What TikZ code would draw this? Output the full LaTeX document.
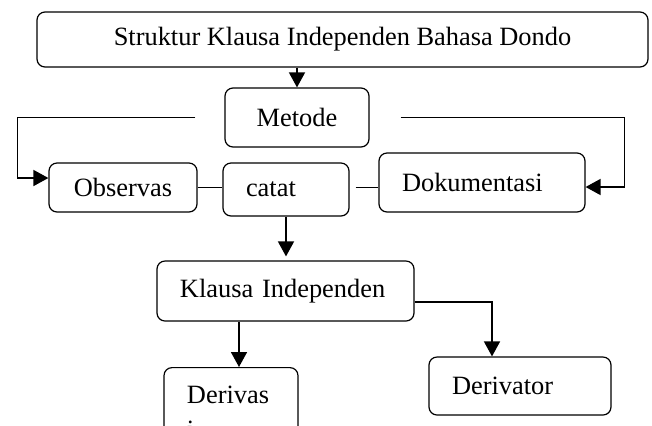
\documentclass[tikz,border=0pt]{standalone}
\usepackage{fontspec}
\setmainfont{Liberation Serif}
\usetikzlibrary{shapes.geometric, arrows, arrows.meta}
\tikzstyle{judul} = [rectangle, rounded corners=4pt, minimum width=305.5pt, minimum height=27.5pt, text centered, draw=black, line width=0.6pt, fill=white]
\tikzstyle{proses} = [rectangle, rounded corners=4pt, inner xsep=11.5pt, align=left, draw=black, line width=0.6pt, fill=white]
\tikzstyle{arrow} = [thick,->,>={Triangle[length=7.5pt,width=8pt]}]
\tikzstyle{garis} = [thick]

\begin{document}
\begin{tikzpicture}[node distance = 40pt, font = \fontsize{13.2}{15}\selectfont]
\useasboundingbox (-171.25pt,-192.75pt) rectangle (154.75pt,19.75pt);
\clip (-171.25pt,-192.75pt) rectangle (154.75pt,19.75pt);
\node (judul) [judul] {Struktur Klausa Independen Bahasa Dondo};
\node (metode) [proses, below of = judul, xshift = -22.75pt, yshift = 1pt, text width = 49pt, align = center, minimum height = 29.5pt] {Metode};
\node (catat) [proses, below of = metode, xshift = -5.5pt, yshift = 4pt, text width = 40pt, minimum height = 26.5pt] {catat};
\node (obs) [proses, left of = catat, xshift = -41.5pt, yshift = 1pt, text width = 51pt, align = center, minimum height = 24.5pt] {Observas};
\node (dok) [proses, right of = catat, xshift = 58pt, yshift = 3.5pt, text width = 80pt, minimum height = 29.5pt] {Dokumentasi};
\node (klausa) [proses, below of = catat, xshift = -0.25pt, yshift = -10.75pt, text width = 105.5pt, minimum height = 30pt] {Klausa Independen};
\node (derivasi) [proses, below of = klausa, anchor = north, xshift = -27.25pt, yshift = 2pt, text width = 44pt, inner ysep = 9pt] {Derivas\\[2.5pt]i};
\node (derivator) [proses, below of = klausa, xshift = 117.25pt, yshift = -7.5pt, text width = 68pt, minimum height = 29pt] {Derivator};
\draw [arrow] (judul.south -| metode.north) -- (metode.north);
\draw [arrow] ([xshift = -14.5pt]metode.west) -- ++(-89pt,0) |- ([yshift = 4.75pt]obs.west);
\draw [arrow] ([xshift = 15.5pt]metode.east) -- ++(112pt,0) |- ([yshift = -2.25pt]dok.east);
\draw [garis] (obs.east) -- (obs.east -| catat.west);
\draw [garis] ([xshift = 3pt]catat.east |- obs.east) -- (dok.west |- obs.east);
\draw [arrow, shorten >= 2pt] (catat.south) -- (catat.south |- klausa.north);
\draw [arrow] ([xshift = 4pt]derivasi.north |- klausa.south) -- ([xshift = 4pt]derivasi.north);
\draw [arrow] ([yshift = -5.5pt]klausa.east) -| ([xshift = -14pt]derivator.north);
\end{tikzpicture}
\end{document}
